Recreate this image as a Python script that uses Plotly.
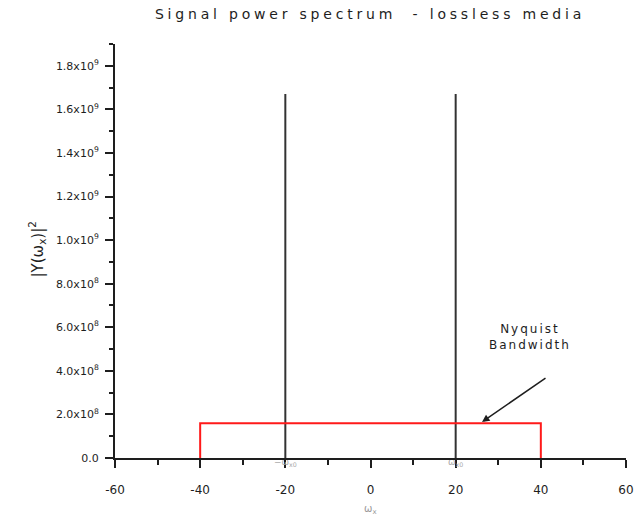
import plotly.graph_objects as go

# Data
carrier_freqs = [-20, 20]
carrier_power = 1.67e9
nyquist_edges = [-40, 40]
nyquist_level = 1.6e8

x_ticks = [-60, -40, -20, 0, 20, 40, 60]
x_ticktext = ["-60", "-40", "-20", "0", "20", "40", "60"]
y_ticks = [0, 2e8, 4e8, 6e8, 8e8, 1.0e9, 1.2e9, 1.4e9, 1.6e9, 1.8e9]
y_ticktext = ["0.0", "2.0x10<sup>8</sup>", "4.0x10<sup>8</sup>", "6.0x10<sup>8</sup>",
              "8.0x10<sup>8</sup>", "1.0x10<sup>9</sup>", "1.2x10<sup>9</sup>",
              "1.4x10<sup>9</sup>", "1.6x10<sup>9</sup>", "1.8x10<sup>9</sup>"]

fig = go.Figure()

for f in carrier_freqs:
    fig.add_trace(go.Scatter(x=[f, f], y=[0, carrier_power], mode="lines",
                             line=dict(color="#333333", width=2), showlegend=False,
                             hoverinfo="skip"))

fig.add_trace(go.Scatter(
    x=[nyquist_edges[0], nyquist_edges[0], nyquist_edges[1], nyquist_edges[1]],
    y=[0, nyquist_level, nyquist_level, 0],
    mode="lines", line=dict(color="#ff1a1a", width=2), showlegend=False,
    hoverinfo="skip"))

W, H = 636, 531
L, R, T, B = 115, 10, 44, 73
PW, PH = W - L - R, H - T - B

def px(p):
    return (p - L) / PW

def py(p):
    return (H - B - p) / PH

font_family = "DejaVu Sans, Verdana, sans-serif"
dark = "#1e1e1e"

fig.update_layout(
    width=W, height=H,
    margin=dict(l=L, r=R, t=T, b=B, autoexpand=False),
    paper_bgcolor="white", plot_bgcolor="white",
    font=dict(family=font_family, color=dark, size=11),
    title=dict(text="Signal power spectrum  - lossless media",
               x=370 / W, xanchor="center", xref="container",
               y=1 - 14 / H, yanchor="middle", yref="container",
               font=dict(size=14, color=dark, family=font_family)),
    xaxis=dict(range=[-60, 60], tickvals=x_ticks, ticktext=x_ticktext,
               showgrid=False, zeroline=False, showline=True, automargin=False,
               linecolor=dark, linewidth=2, ticks="outside",
               ticklen=8, tickwidth=2, tickcolor=dark,
               ticklabelstandoff=12,
               tickfont=dict(size=12, color=dark),
               minor=dict(ticks="outside", ticklen=5, tickwidth=2,
                          tickcolor=dark, dtick=10, tick0=0)),
    yaxis=dict(range=[0, 1.9e9], tickvals=y_ticks, ticktext=y_ticktext,
               showgrid=False, zeroline=False, showline=True, automargin=False,
               linecolor=dark, linewidth=2, ticks="outside",
               ticklen=8, tickwidth=2, tickcolor=dark,
               ticklabelstandoff=4,
               tickfont=dict(size=11, color=dark),
               minor=dict(ticks="outside", ticklen=4, tickwidth=2,
                          tickcolor=dark, dtick=1e8, tick0=0)),
)

annotations = [
    dict(text="|Y(ω<sub>x</sub>)|<sup>2</sup>", x=px(24), y=py(250), xref="paper",
         yref="paper", textangle=-90, showarrow=False,
         font=dict(size=15, color=dark)),
    dict(text="ω<sub>x</sub>", x=0, y=py(518), xref="x", yref="paper",
         showarrow=False, font=dict(size=10, color="#999999")),
    dict(text="−ω<sub>x0</sub>", x=-20, y=py(470), xref="x", yref="paper",
         showarrow=False, font=dict(size=9, color="#aaaaaa")),
    dict(text="ω<sub>x0</sub>", x=20, y=py(470), xref="x", yref="paper",
         showarrow=False, font=dict(size=9, color="#aaaaaa")),
    dict(text="Nyquist<br>Bandwidth", x=px(564), y=py(354), xref="paper", yref="paper",
         showarrow=False, align="center", font=dict(size=12, color=dark)),
]
for a in annotations:
    fig.add_annotation(**a)

fig.add_annotation(x=px(482), y=py(422), xref="paper", yref="paper",
                   ax=547 - 482, ay=377 - 422,
                   showarrow=True, arrowhead=2, arrowsize=1, arrowwidth=1.5,
                   arrowcolor=dark, text="")

post = """
var gd = document.getElementById('{plot_id}');
function spaceText(){
  var t = gd.querySelector('.gtitle');
  if (t) { t.style.letterSpacing = '3.8px'; }
  var anns = gd.querySelectorAll('.annotation-text');
  anns.forEach(function(a){
    if (a.textContent.indexOf('Nyquist') >= 0) { a.style.letterSpacing = '2px'; }
  });
}
spaceText();
gd.on('plotly_afterplot', spaceText);
"""

fig.write_html("out.html", post_script=post)
